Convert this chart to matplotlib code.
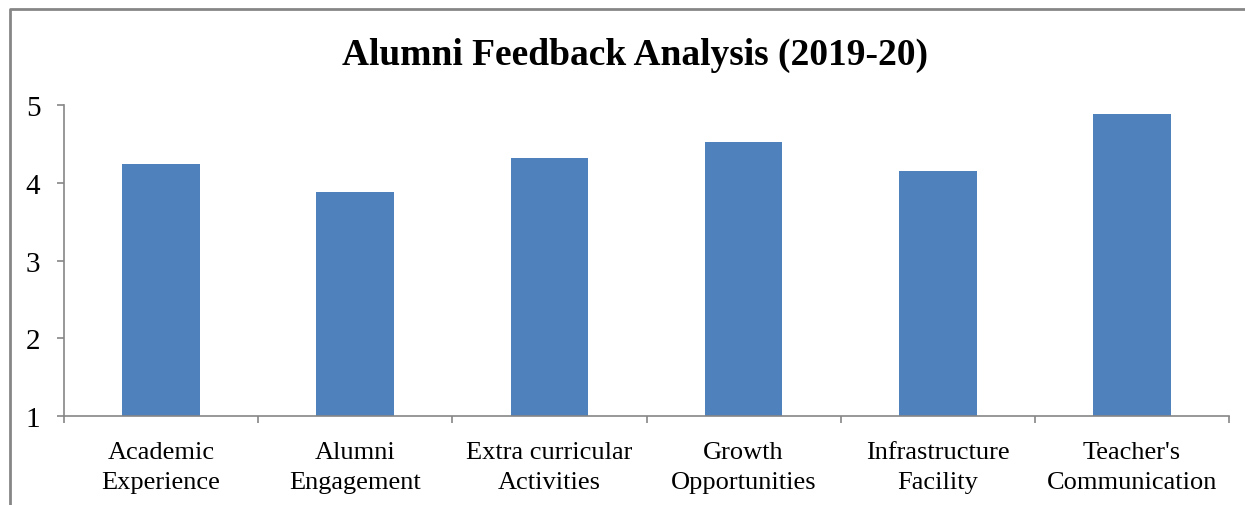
import matplotlib
matplotlib.use("Agg")
import matplotlib.pyplot as plt
from matplotlib.lines import Line2D
import numpy as np

# Datos del grafico
categories = ["Academic\nExperience", "Alumni\nEngagement", "Extra curricular\nActivities",
              "Growth\nOpportunities", "Infrastructure\nFacility", "Teacher's\nCommunication"]
scores = [4.24, 3.88, 4.32, 4.52, 4.15, 4.89]
yticks = [1, 2, 3, 4, 5]

plt.rcParams['font.family'] = ['Liberation Serif', 'DejaVu Serif']

fig = plt.figure(figsize=(12.45, 5.06), dpi=100)
ax = fig.add_axes([64/1245, 1 - 417/506, (1229 - 64)/1245, (417 - 106)/506])

grey = "#868686"
x = np.arange(len(categories))
ax.bar(x, np.array(scores) - 1, bottom=1, width=0.4, color="#4f81bd")

ax.set_xlim(-0.5, len(categories) - 0.5)
ax.set_ylim(1, 5)
ax.set_yticks(yticks)
ax.set_yticklabels([str(v) for v in yticks], fontsize=21)

# ticks del eje x en los limites de categoria, etiquetas en el centro
ax.set_xticks(np.arange(len(categories) + 1) - 0.5)
ax.set_xticklabels([])
ax.set_xticks(x, minor=True)
ax.set_xticklabels(categories, minor=True, fontsize=19, linespacing=1.5)
ax.tick_params(axis='x', which='minor', length=0, pad=18)
ax.tick_params(axis='x', which='major', length=5, width=1.2, color=grey, direction='out')
ax.tick_params(axis='y', length=5, width=1.2, color=grey, direction='out', pad=12)

ax.spines['top'].set_visible(False)
ax.spines['right'].set_visible(False)
for side in ['left', 'bottom']:
    ax.spines[side].set_color(grey)
    ax.spines[side].set_linewidth(1.2)

fig.text(635/1245, 1 - 55/506, "Alumni Feedback Analysis (2019-20)", ha='center', va='center',
         fontsize=27, fontweight='bold')

# marco del grafico (recortado)
bx, by = 10/1245, 1 - 10/506
fig.add_artist(Line2D([bx, bx, 1], [0, by, by], color=grey, lw=2, transform=fig.transFigure))

fig.savefig("out.png", dpi=100)
